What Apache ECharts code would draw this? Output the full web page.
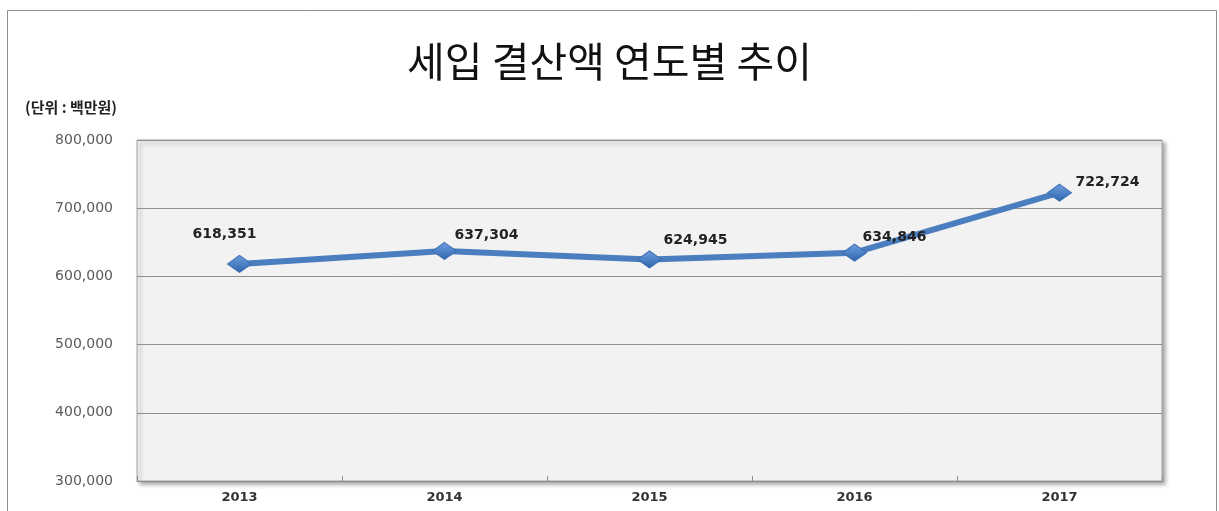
<!DOCTYPE html>
<html>
<head>
<meta charset="utf-8">
<script src="https://cdn.jsdelivr.net/npm/echarts@6/dist/echarts.min.js"></script>
<style>
  html, body { margin: 0; padding: 0; background: #fff; }
  #chart { width: 1219px; height: 511px; }
</style>
</head>
<body>
<div id="chart"></div>
<script>
// Données
const annees = ['2013', '2014', '2015', '2016', '2017'];
const montants = [618351, 637304, 624945, 634846, 722724];
const ticksY = [300000, 400000, 500000, 600000, 700000, 800000];

// décalage des étiquettes par rapport au losange
const decalages = [[-15, -30], [42, -16], [46, -19], [40, -15], [48, -10]];

const chart = echarts.init(document.getElementById('chart'), null, { renderer: 'canvas' });

const option = {
    backgroundColor: '#ffffff',
    animation: false,
    title: [
        {
            text: '세입 결산액 연도별 추이',
            left: 'center',
            top: 36,
            textStyle: {
                fontFamily: 'Noto Sans CJK KR',
                fontSize: 41,
                fontWeight: 'normal',
                color: '#111'
            }
        },
        {
            text: '(단위 : 백만원)',
            left: 20,
            top: 95,
            textStyle: {
                fontFamily: 'Noto Sans CJK KR',
                fontSize: 15,
                fontWeight: 'bold',
                color: '#222'
            }
        }
    ],
    graphic: [
        {
            type: 'rect',
            shape: { x: 7.5, y: 10.5, width: 1209, height: 520 },
            style: { fill: 'none', stroke: '#8c8c8c', lineWidth: 1 },
            silent: true
        }
    ],
    grid: {
        left: 137,
        top: 140,
        right: 57,
        bottom: 30,
        show: true,
        backgroundColor: '#f2f2f2',
        borderColor: '#a6a6a6',
        borderWidth: 1,
        shadowColor: 'rgba(0,0,0,0.35)',
        shadowBlur: 4,
        shadowOffsetX: 3,
        shadowOffsetY: 3
    },
    xAxis: {
        type: 'category',
        data: annees,
        boundaryGap: true,
        axisLine: { lineStyle: { color: '#8c8c8c', width: 1 } },
        axisTick: { show: true, inside: true, length: 5, lineStyle: { color: '#8c8c8c' } },
        axisLabel: {
            margin: 10,
            fontFamily: 'DejaVu Sans',
            fontSize: 13,
            fontWeight: 'bold',
            color: '#333'
        }
    },
    yAxis: {
        type: 'value',
        min: ticksY[0],
        max: ticksY[ticksY.length - 1],
        interval: 100000,
        axisLine: { show: false },
        axisTick: { show: false },
        splitLine: { lineStyle: { color: '#8f8f8f', width: 1 } },
        axisLabel: {
            margin: 24,
            fontFamily: 'DejaVu Sans',
            fontSize: 14,
            color: '#5a5a5a',
            formatter: function (v) { return v.toLocaleString('en-US'); }
        }
    },
    series: [
        {
            name: '세입 결산액',
            type: 'line',
            data: montants.map((v, i) => ({
                value: v,
                label: { offset: decalages[i] }
            })),
            symbol: 'diamond',
            symbolSize: [24, 17],
            lineStyle: { color: '#4a7ebf', width: 6 },
            itemStyle: {
                color: new echarts.graphic.LinearGradient(0, 0, 0, 1, [
                    { offset: 0, color: '#6f9fe0' },
                    { offset: 1, color: '#2f65ad' }
                ]),
                borderColor: '#3a6db0',
                borderWidth: 1
            },
            label: {
                show: true,
                position: 'inside',
                fontFamily: 'DejaVu Sans',
                fontSize: 14,
                fontWeight: 'bold',
                color: '#222',
                formatter: function (p) { return p.value.toLocaleString('en-US'); }
            },
            z: 3
        }
    ]
};

chart.setOption(option);
window.addEventListener('resize', chart.resize);
</script>
</body>
</html>
